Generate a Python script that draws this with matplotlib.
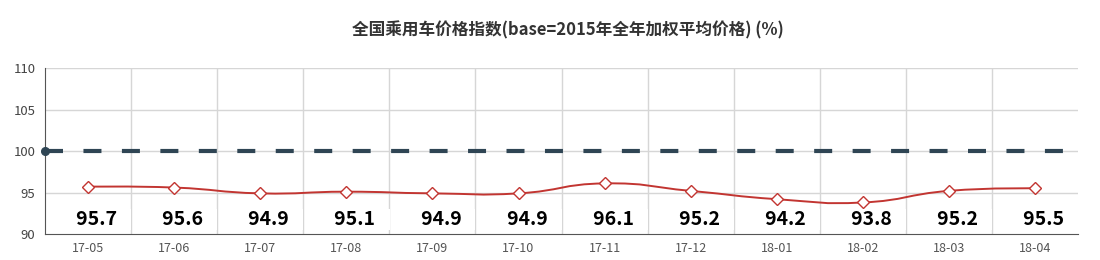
import matplotlib
matplotlib.use("Agg")
import matplotlib.pyplot as plt
import numpy as np
from matplotlib.path import Path
from matplotlib.patches import PathPatch

plt.rcParams["font.family"] = ["Noto Sans CJK SC", "DejaVu Sans"]

# data
months = ["17-05", "17-06", "17-07", "17-08", "17-09", "17-10",
          "17-11", "17-12", "18-01", "18-02", "18-03", "18-04"]
index_vals = [95.7, 95.6, 94.9, 95.1, 94.9, 94.9,
              96.1, 95.2, 94.2, 93.8, 95.2, 95.5]
base_val = 100
title = "全国乘用车价格指数(base=2015年全年加权平均价格) (%)"

RED = "#c23531"
DARK = "#2f4554"


def smooth_path(xs, ys, sx=86.0, sy=8.3, smooth=0.5):
    # echarts-like bezier smoothing, computed in approx. pixel space
    pts = np.column_stack([np.asarray(xs, float) * sx, np.asarray(ys, float) * sy])
    n = len(pts)
    verts = [pts[0]]
    codes = [Path.MOVETO]
    cp0 = pts[0].copy()
    for i in range(1, n):
        p = pts[i]
        if i == n - 1:
            cp1 = p.copy()
        else:
            prev, nxt = pts[i - 1], pts[i + 1]
            v = nxt - prev
            d0 = np.hypot(*(p - prev))
            d1 = np.hypot(*(p - nxt))
            r = d1 / (d0 + d1)
            cp1 = p - v * smooth * (1 - r)
            new_cp0 = p + v * smooth * r
        verts += [cp0, cp1, p]
        codes += [Path.CURVE4] * 3
        if i < n - 1:
            cp0 = new_cp0
    verts = np.array(verts) / [sx, sy]
    return Path(verts, codes)


fig = plt.figure(figsize=(11, 2.6), dpi=100)
ax = fig.add_axes([0.041, 0.1, 0.939, 0.638])

x = np.arange(len(months))
ax.set_xlim(-0.5, len(months) - 0.5)
ax.set_ylim(90, 110)

# grid
for g in [95, 100, 105, 110]:
    ax.axhline(g, color="#d6d6d6", lw=1, zorder=0)
for b in x[:-1] + 0.5:
    ax.axvline(b, color="#d6d6d6", lw=1, zorder=0)

# baseline dashed
ax.plot([-0.5, len(months) - 0.5], [base_val, base_val], color=DARK, lw=3.0,
        dashes=(4.32, 4.91), zorder=3, solid_capstyle="butt", dash_capstyle="butt")
ax.plot([-0.5], [base_val], "o", color=DARK, ms=5.5, zorder=4, clip_on=False)

# smoothed index line
ax.add_patch(PathPatch(smooth_path(x, index_vals), facecolor="none",
                       edgecolor=RED, lw=1.4, zorder=3))
ax.plot(x, index_vals, "D", ms=6, mfc="white", mec=RED, mew=1.0,
        ls="none", zorder=5)

for xi, v in zip(x, index_vals):
    ax.text(xi + 0.1, 91.7, f"   {v}   ", ha="center", va="center",
            fontsize=14, fontweight="bold", color="black", zorder=6,
            bbox=dict(boxstyle="square,pad=0.05", fc="white", ec="none"))

ax.set_xticks(x)
ax.set_xticklabels(months)
ax.set_yticks([90, 95, 100, 105, 110])
ax.tick_params(axis="x", length=0, pad=6, labelsize=9, colors="#555555")
ax.tick_params(axis="y", length=0, pad=7, labelsize=9.5, colors="#444444")
for s in ["top", "right"]:
    ax.spines[s].set_visible(False)
ax.spines["left"].set_color("#555555")
ax.spines["bottom"].set_color("#555555")

fig.text(0.516, 0.885, title, ha="center", va="center", fontsize=12,
         fontweight="bold", color="#333333")

fig.savefig("out.png", dpi=100)
